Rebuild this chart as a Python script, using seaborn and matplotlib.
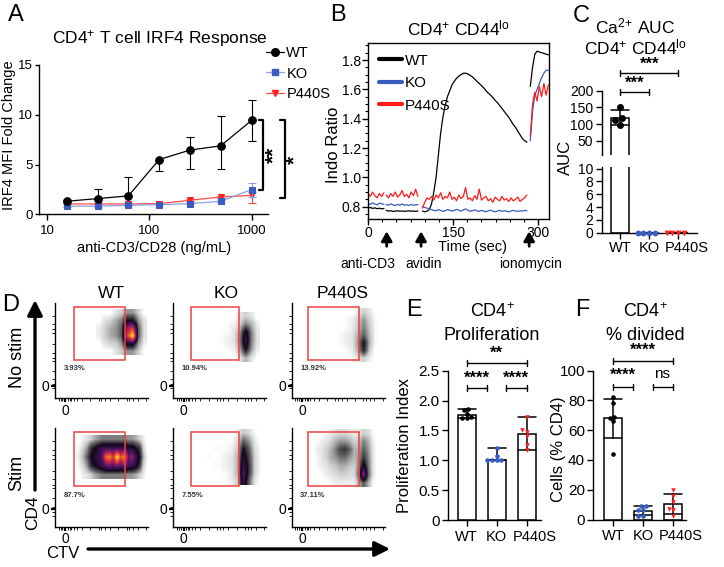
import matplotlib
matplotlib.use("Agg")
import matplotlib.pyplot as plt
import matplotlib.transforms as mtransforms
from matplotlib.colors import LinearSegmentedColormap, Normalize
from matplotlib.lines import Line2D
from matplotlib.patches import Rectangle, FancyArrowPatch
import numpy as np
import pandas as pd
import seaborn as sns

# ---------------- data ----------------
genotypes = ["WT", "KO", "P440S"]

# A: IRF4 fold change vs anti-CD3/CD28 dose
doses = [15.6, 31.25, 62.5, 125, 250, 500, 1000]
irf4_wt = [1.31, 1.58, 1.85, 5.5, 6.45, 6.88, 9.43]
irf4_wt_lo = [0.1, 0.0, 0.0, 1.14, 1.92, 2.28, 2.11]
irf4_wt_hi = [0.1, 0.97, 1.91, 0.0, 1.27, 2.99, 2.05]
irf4_ko = [0.81, 0.82, 0.90, 0.97, 1.07, 1.31, 2.48]
irf4_ko_lo = [0.05, 0.05, 0.05, 0.05, 0.05, 0.1, 0.78]
irf4_ko_hi = [0.05, 0.05, 0.05, 0.05, 0.05, 0.1, 0.62]
irf4_p440s = [1.04, 1.04, 1.04, 1.07, 1.41, 1.74, 1.90]
irf4_p440s_lo = [0.05, 0.05, 0.05, 0.05, 0.1, 0.1, 0.72]
irf4_p440s_hi = [0.05, 0.05, 0.05, 0.05, 0.1, 0.1, 0.3]

# B: Indo ratio kinetics (segments between additions)
time_pre = np.arange(0, 29, 4)
time_cd3 = np.arange(32, 89, 4)
time_avidin = np.arange(96, 281, 4)
time_iono = np.arange(286, 319, 4)

wt_pre = [0.790, 0.795, 0.788, 0.792, 0.786, 0.790, 0.785, 0.788]
wt_cd3 = [0.775, 0.770, 0.772, 0.768, 0.770, 0.772, 0.769, 0.771, 0.768, 0.770,
          0.772, 0.769, 0.770, 0.768, 0.771]
wt_avidin = [0.77, 0.765, 0.77, 0.78, 0.82, 0.9, 1.0, 1.15, 1.3, 1.41,
             1.49, 1.55, 1.59, 1.63, 1.655, 1.675, 1.69, 1.70, 1.71, 1.71,
             1.705, 1.695, 1.685, 1.67, 1.655, 1.64, 1.625, 1.61, 1.59, 1.575,
             1.56, 1.545, 1.525, 1.51, 1.49, 1.47, 1.45, 1.43, 1.41, 1.385,
             1.36, 1.34, 1.315, 1.29, 1.265, 1.25, 1.24]
wt_iono = [1.62, 1.75, 1.84, 1.86, 1.855, 1.85, 1.845, 1.84, 1.835]

ko_pre = [0.822, 0.815, 0.826, 0.818, 0.812, 0.824, 0.820, 0.816]
ko_cd3 = [0.815, 0.810, 0.820, 0.812, 0.808, 0.816, 0.810, 0.818, 0.811, 0.813,
          0.808, 0.815, 0.810, 0.812, 0.815]
ko_avidin = [0.800, 0.795, 0.790, 0.785, 0.780, 0.775, 0.772, 0.780, 0.775, 0.768,
             0.772, 0.780, 0.776, 0.770, 0.774, 0.782, 0.776, 0.770, 0.778, 0.785,
             0.775, 0.770, 0.772, 0.778, 0.772, 0.768, 0.775, 0.770, 0.766, 0.772,
             0.776, 0.770, 0.765, 0.770, 0.775, 0.768, 0.772, 0.770, 0.765, 0.770,
             0.775, 0.770, 0.768, 0.772, 0.770, 0.775, 0.772]
ko_iono = [1.25, 1.45, 1.56, 1.60, 1.64, 1.68, 1.71, 1.73, 1.73]

p440s_pre = [0.890, 0.870, 0.900, 0.875, 0.860, 0.890, 0.870, 0.895]
p440s_cd3 = [0.880, 0.860, 0.890, 0.870, 0.900, 0.865, 0.880, 0.910, 0.870, 0.885,
             0.860, 0.900, 0.875, 0.920, 0.870]
p440s_avidin = [0.790, 0.830, 0.860, 0.850, 0.870, 0.845, 0.880, 0.860, 0.895, 0.850,
                0.870, 0.860, 0.900, 0.850, 0.865, 0.840, 0.880, 0.855, 0.870, 0.930,
                0.850, 0.860, 0.840, 0.875, 0.850, 0.920, 0.845, 0.860, 0.870, 0.840,
                0.855, 0.830, 0.865, 0.850, 0.840, 0.870, 0.845, 0.855, 0.835, 0.860,
                0.840, 0.850, 0.865, 0.835, 0.850, 0.860, 0.880]
p440s_iono = [1.28, 1.50, 1.58, 1.52, 1.62, 1.55, 1.64, 1.56, 1.63]

# C: Ca2+ AUC
auc_wt = [150, 118, 112, 97]
auc_ko = [0, 0, 0, 0]
auc_p440s = [0, 0, 0, 0]

# E: proliferation index
prolif_wt = [1.86, 1.84, 1.78, 1.72, 1.70, 1.70]
prolif_ko = [1.20, 1.08, 1.00, 1.00, 1.00, 1.00]
prolif_p440s = [1.73, 1.50, 1.48, 1.40, 1.26, 1.17]

# F: % divided
divided_wt = [82, 78, 69, 68, 66, 44]
divided_ko = [8.9, 8.9, 6.2, 6.2, 2.2, 2.2]
divided_p440s = [19.6, 15.6, 11.8, 7.3, 6.2, 2.2]

# D: flow density grids (CTV x CD4, axes fraction), rows top -> bottom
flow_wt_nostim_ext = [0.44, 0.98, 0.46, 0.94]
flow_wt_nostim = [
    [0, 0, 0, 0.3, 0.5, 1, 1, 0.5, 0],
    [0, 0.3, 0.5, 0.8, 1.2, 2.5, 2.5, 1, 0.3],
    [0.2, 0.5, 0.8, 1, 1.5, 5, 6, 1.5, 0.3],
    [0.2, 0.5, 0.8, 1, 1.5, 6, 9, 1.5, 0.3],
    [0, 0.3, 0.5, 0.5, 1, 3, 3, 1, 0.2],
    [0, 0, 0, 0.3, 0.5, 1, 1, 0.5, 0],
]
flow_ko_nostim_ext = [0.50, 0.92, 0.38, 0.90]
flow_ko_nostim = [
    [0, 0, 0, 0.3, 0.5, 0.3, 0],
    [0, 0.1, 0.2, 0.5, 1.2, 0.8, 0.2],
    [0.1, 0.1, 0.3, 1, 3, 1.2, 0.3],
    [0.1, 0.2, 0.3, 1.2, 3.5, 1.2, 0.3],
    [0, 0.1, 0.2, 0.8, 2.5, 1, 0.2],
    [0, 0, 0, 0.3, 0.8, 0.3, 0],
]
flow_p440s_nostim_ext = [0.50, 0.92, 0.38, 0.94]
flow_p440s_nostim = [
    [0, 0, 0, 0.2, 0.5, 0.3, 0],
    [0, 0.1, 0.2, 0.5, 1.0, 0.5, 0.1],
    [0, 0.1, 0.2, 0.6, 1.2, 0.6, 0.1],
    [0.1, 0.2, 0.3, 0.8, 1.5, 0.7, 0.1],
    [0.1, 0.2, 0.3, 1.0, 2.5, 0.8, 0.1],
    [0, 0.1, 0.2, 0.8, 2.2, 0.6, 0],
    [0, 0, 0.1, 0.3, 0.5, 0.2, 0],
]
flow_wt_stim_ext = [0.20, 1.00, 0.48, 0.92]
flow_wt_stim = [
    [0, 0, 0.2, 0.3, 0.5, 0.8, 1, 1.2, 1.2, 1.2, 1.2, 1.2, 1.2, 1.2, 1, 1, 0.8, 0.5, 0.2, 0],
    [0, 0.2, 0.5, 1, 2, 2.5, 3, 3.5, 3.5, 3.5, 3.5, 3.5, 3.5, 3.5, 3, 3, 2.5, 2, 0.5, 0],
    [0.1, 0.3, 0.8, 1.5, 2.5, 3, 3.5, 4, 7, 7.5, 6, 9, 6.5, 8, 4.5, 5, 3.5, 2.5, 0.8, 0.1],
    [0, 0.2, 0.5, 1, 2, 2.5, 3, 3.5, 4, 4.5, 4, 4.5, 4, 4.5, 3.5, 3.5, 3, 2, 0.5, 0],
    [0, 0, 0.2, 0.3, 0.5, 0.8, 1, 1.2, 1.2, 1.2, 1.2, 1.2, 1.2, 1.2, 1, 1, 0.8, 0.5, 0.2, 0],
]
flow_ko_stim_ext = [0.36, 0.96, 0.42, 0.98]
flow_ko_stim = [
    [0, 0, 0, 0, 0, 0.2, 0.6, 0.4, 0.1, 0],
    [0, 0, 0, 0.1, 0.1, 0.4, 1.5, 1.0, 0.3, 0],
    [0, 0.1, 0.1, 0.1, 0.2, 0.6, 2.5, 1.5, 0.4, 0.1],
    [0.1, 0, 0.1, 0.2, 0.3, 0.8, 3.0, 1.8, 0.5, 0.1],
    [0, 0.1, 0.1, 0.2, 0.3, 0.8, 3.5, 2.0, 0.5, 0.1],
    [0, 0, 0.1, 0.1, 0.3, 0.8, 4.0, 2.0, 0.5, 0.1],
    [0, 0, 0, 0.1, 0.2, 0.6, 3.5, 1.5, 0.3, 0],
]
flow_p440s_stim_ext = [0.20, 0.95, 0.40, 0.98]
flow_p440s_stim = [
    [0, 0, 0, 0.1, 0.2, 0.3, 0.4, 0.4, 0.3, 0.2, 0.3, 0.5, 0.4, 0.1, 0],
    [0, 0.1, 0.2, 0.3, 0.5, 0.8, 1.0, 1.0, 0.8, 0.5, 0.6, 1.2, 0.8, 0.2, 0],
    [0, 0.2, 0.3, 0.5, 0.8, 1.2, 1.8, 2.0, 1.5, 0.8, 0.8, 1.5, 1.0, 0.3, 0],
    [0, 0.1, 0.3, 0.5, 0.8, 1.0, 1.3, 1.3, 1.0, 0.7, 1.0, 2.0, 1.2, 0.3, 0],
    [0, 0.1, 0.2, 0.3, 0.5, 0.6, 0.8, 0.8, 0.6, 0.5, 1.2, 3.0, 1.3, 0.3, 0],
    [0, 0, 0.1, 0.2, 0.3, 0.4, 0.5, 0.5, 0.4, 0.4, 1.5, 5.0, 1.5, 0.3, 0],
    [0, 0, 0, 0, 0.1, 0.2, 0.2, 0.2, 0.2, 0.2, 0.8, 1.5, 0.8, 0.1, 0],
]
pct_nostim = ["3.93%", "10.94%", "13.92%"]
pct_stim = ["87.7%", "7.55%", "37.11%"]

# ---------------- style ----------------
sns.set_theme(style="ticks")
plt.rcParams["font.family"] = ["Liberation Sans", "DejaVu Sans"]
plt.rcParams.update({
    "mathtext.fontset": "custom",
    "mathtext.rm": "Liberation Sans",
    "mathtext.it": "Liberation Sans:italic",
    "mathtext.bf": "Liberation Sans:bold",
    "axes.edgecolor": "black",
    "axes.linewidth": 1.0,
    "xtick.color": "black",
    "ytick.color": "black",
    "xtick.major.width": 1.0,
    "ytick.major.width": 1.0,
    "xtick.major.size": 4,
    "ytick.major.size": 4,
    "text.color": "black",
    "axes.labelcolor": "black",
})

colors = {"WT": "black", "KO": "#3a5bbf", "P440S": "#ff2020"}
markers = {"WT": "o", "KO": "o", "P440S": "v"}

W, H = 724, 567
fig = plt.figure(figsize=(W / 100, H / 100), dpi=100)


def fig_box(l, t, r, b):
    return fig.add_axes([l / W, 1 - b / H, (r - l) / W, (b - t) / H])


def ftext(x, y, s, **kw):
    kw.setdefault("ha", "center")
    kw.setdefault("va", "center")
    fig.text(x / W, 1 - y / H, s, **kw)


def bracket(ax, x0, x1, ypx, label, typx, size=12, weight="bold"):
    tr = mtransforms.blended_transform_factory(ax.transData, fig.transFigure)
    y = 1 - ypx / H
    d = 3 / H
    ax.plot([x0, x1], [y, y], color="black", lw=1.0, transform=tr, clip_on=False)
    for xx in (x0, x1):
        ax.plot([xx, xx], [y - d, y + d], color="black", lw=1.0, transform=tr, clip_on=False)
    ax.text((x0 + x1) / 2, 1 - typx / H, label, transform=tr, ha="center", va="center",
            fontsize=size, fontweight=weight)


def nudge_last_label(ax, px):
    lab = ax.get_xticklabels()[-1]
    lab.set_transform(lab.get_transform() + mtransforms.ScaledTranslation(px / 100, 0, fig.dpi_scale_trans))


for letter, x, y in [("A", 16, 15), ("B", 338, 15), ("C", 581, 16),
                     ("D", 11, 305), ("E", 414, 310), ("F", 582, 310)]:
    ftext(x, y, letter, fontsize=17)

# ---------------- A ----------------
axA = fig_box(39.3, 65, 268, 214.3)
series_a = [
    ("P440S", irf4_p440s, irf4_p440s_lo, irf4_p440s_hi, "#ff4a4a", "#ff2020", "v", 5),
    ("KO", irf4_ko, irf4_ko_lo, irf4_ko_hi, "#8da2e0", "#3a5bbf", "s", 5),
    ("WT", irf4_wt, irf4_wt_lo, irf4_wt_hi, "black", "black", "o", 5.5),
]
for g, yv, lo, hi, lc, mc, m, ms in series_a:
    axA.errorbar(doses, yv, yerr=[lo, hi], fmt="none", ecolor=lc, elinewidth=0.8,
                 capsize=3, capthick=0.8)
    sns.lineplot(x=doses, y=yv, ax=axA, color=lc, marker=m, markersize=ms,
                 markerfacecolor=mc, markeredgecolor=mc, linewidth=0.9)
axA.set_xscale("log")
axA.set_xlim(8.4, 1450)
axA.set_ylim(0, 15)
axA.set_xticks([10, 100, 1000], ["10", "100", "1000"])
axA.xaxis.set_minor_locator(matplotlib.ticker.NullLocator())
axA.set_yticks([0, 5, 10, 15])
axA.tick_params(labelsize=9.5)
axA.tick_params(axis="y", length=3, pad=1.5)
sns.despine(ax=axA)
axA.set_xlabel("anti-CD3/CD28 (ng/mL)", fontsize=10.5, labelpad=3)
axA.set_ylabel("IRF4 MFI Fold Change", fontsize=10.5)
axA.yaxis.set_label_coords(-0.1, 0.53)
ftext(160, 39, r"CD4$^{+}$ T cell IRF4 Response", fontsize=12.5)

handles_a = [Line2D([], [], color=lc, marker=m, markerfacecolor=mc, markeredgecolor=mc,
                    markersize=ms, lw=0.9) for g, yv, lo, hi, lc, mc, m, ms in series_a[::-1]]
axA.legend(handles_a, genotypes, loc="upper left", bbox_to_anchor=(266 / W, 1 - 46 / H),
           bbox_transform=fig.transFigure, frameon=False, fontsize=10.5, handlelength=1.2,
           handletextpad=0.2, labelspacing=0.45, borderpad=0, borderaxespad=0)

for xa, xb, y_top, y_bot, lab, xl, yl in [(1171, 1300, 9.43, 2.48, "**", 1652, 5.94),
                                          (1879, 2104, 9.43, 1.68, "*", 2632, 5.5)]:
    axA.plot([xa, xb, xb, xa], [y_top, y_top, y_bot, y_bot], color="black", lw=1.6,
             clip_on=False)
    axA.text(xl, yl, lab, rotation=90, ha="center", va="center", fontsize=15,
             fontweight="bold", clip_on=False)

# ---------------- B ----------------
axB = fig_box(368, 43, 549, 219)
segments = [time_pre, time_cd3, time_avidin, time_iono]
b_series = {"WT": [wt_pre, wt_cd3, wt_avidin, wt_iono],
            "KO": [ko_pre, ko_cd3, ko_avidin, ko_iono],
            "P440S": [p440s_pre, p440s_cd3, p440s_avidin, p440s_iono]}
rows = []
for g, parts in b_series.items():
    for k, (tt, vv) in enumerate(zip(segments, parts)):
        rows.append(pd.DataFrame({"time": tt, "ratio": vv, "segment": k, "genotype": g}))
df_b = pd.concat(rows, ignore_index=True)
b_colors = {"WT": "black", "KO": "#3a5bbf", "P440S": "#ff1a1a"}
for g in genotypes:
    sns.lineplot(data=df_b[df_b.genotype == g], x="time", y="ratio", units="segment",
                 estimator=None, color=b_colors[g], linewidth=0.9, ax=axB)
axB.set_xlim(0, 319)
axB.set_ylim(0.716, 1.916)
axB.set_xticks([0, 150, 300])
axB.set_yticks([0.8, 1.0, 1.2, 1.4, 1.6, 1.8])
axB.xaxis.set_minor_locator(matplotlib.ticker.MultipleLocator(25))
axB.yaxis.set_minor_locator(matplotlib.ticker.MultipleLocator(0.05))
axB.tick_params(which="minor", length=2, width=0.8)
axB.tick_params(labelsize=10, pad=1)
axB.set_xlabel("")
axB.set_ylabel("Indo Ratio", fontsize=12)
axB.yaxis.set_label_coords(-0.148, 0.42)
axB.text(0.575, -0.16, "Time (sec)", transform=axB.transAxes, ha="center", va="center",
         fontsize=10.5)
ftext(458, 28, r"CD4$^{+}$ CD44$^{\mathrm{lo}}$", fontsize=12.5)
handles_b = [Line2D([], [], color=b_colors[g], lw=3) for g in genotypes]
axB.legend(handles_b, genotypes, loc="upper left", frameon=False, fontsize=11,
           handlelength=1.5, handletextpad=0.2, labelspacing=0.55, borderaxespad=0.3)
trB = axB.get_xaxis_transform()
for t_arrow, t_label, lab in [(33, 0, "anti-CD3"), (93.5, 98.8, "avidin"),
                              (284, 286, "ionomycin")]:
    axB.add_patch(FancyArrowPatch((t_arrow, -0.155), (t_arrow, -0.07), transform=trB,
                                  arrowstyle="-|>,head_length=0.7,head_width=0.4",
                                  mutation_scale=8, lw=2, color="black",
                                  shrinkA=0, shrinkB=0, clip_on=False))
    axB.text(t_label, -0.255, lab, transform=trB, ha="center", va="center", fontsize=10)

# ---------------- C ----------------
df_c = pd.DataFrame({"genotype": np.repeat(genotypes, [len(auc_wt), len(auc_ko), len(auc_p440s)]),
                     "value": np.concatenate([auc_wt, auc_ko, auc_p440s])})


def bar_swarm(ax, df, estimator, errorbar, size, groups=genotypes, unclip=False):
    sns.barplot(data=df, x="genotype", y="value", order=genotypes, estimator=estimator,
                errorbar=errorbar, width=0.6, color="white", edgecolor="black",
                linewidth=1.1, capsize=0.6, err_kws={"color": "black", "linewidth": 1.1},
                ax=ax)
    for g in groups:
        n_before = len(ax.collections)
        sns.swarmplot(data=df[df.genotype == g], x="genotype", y="value", order=genotypes,
                      color=colors[g], marker=markers[g], size=size, ax=ax)
        if unclip:
            for c in ax.collections[n_before:]:
                c.set_clip_on(False)
    ax.set_xlabel("")
    ax.set_ylabel("")


axC1 = fig_box(601.7, 90.7, 696.7, 155)
axC2 = fig_box(601.7, 166.7, 696.7, 232.7)
bar_swarm(axC1, df_c, "mean", "sd", 5, groups=["WT"])
bar_swarm(axC2, df_c, "mean", "sd", 4.2, groups=["KO", "P440S"], unclip=True)
for ax in (axC1, axC2):
    ax.set_xlim(-0.63, 2.63)
    ax.tick_params(labelsize=10, pad=2)
axC1.set_ylim(7, 200)
axC1.set_yticks([50, 100, 150, 200])
axC1.set_xticks([])
sns.despine(ax=axC1, bottom=True)
axC2.set_ylim(0, 10.3)
axC2.set_yticks([0, 2, 4, 6, 8, 10])
axC2.tick_params(axis="x", labelsize=10.5)
nudge_last_label(axC2, 8)
sns.despine(ax=axC2)
ftext(565, 157, "AUC", fontsize=12, rotation=90)
ftext(635, 26, r"Ca$^{2}$$^{+}$ AUC", fontsize=12.5)
ftext(635, 47, r"CD4$^{+}$ CD44$^{\mathrm{lo}}$", fontsize=12.5)
bracket(axC1, 0, 1, 91.7, "***", 83)
bracket(axC1, 0, 2, 73.3, "***", 64)

# ---------------- D ----------------
flow_cmap = LinearSegmentedColormap.from_list("flow", [
    (0.0, (1, 1, 1, 0)), (0.015, (0.95, 0.95, 0.95, 1)), (0.06, (0.8, 0.8, 0.8, 1)),
    (0.15, (0.42, 0.42, 0.42, 1)), (0.28, (0.07, 0.03, 0.1, 1)), (0.45, (0.33, 0.08, 0.42, 1)),
    (0.64, (0.8, 0.16, 0.3, 1)), (0.82, (0.98, 0.5, 0.1, 1)), (1.0, (1, 0.95, 0.4, 1))])
flow_norm = Normalize(0, 9)
flow_grids = [[(flow_wt_nostim, flow_wt_nostim_ext), (flow_ko_nostim, flow_ko_nostim_ext),
               (flow_p440s_nostim, flow_p440s_nostim_ext)],
              [(flow_wt_stim, flow_wt_stim_ext), (flow_ko_stim, flow_ko_stim_ext),
               (flow_p440s_stim, flow_p440s_stim_ext)]]
flow_pcts = [pct_nostim, pct_stim]
row_boxes = [(303.3, 398.3), (428.3, 526.7)]
col_lefts = [55, 173.3, 291.7]
gate_x = [(0.20, 0.75), (0.19, 0.71), (0.18, 0.72)]
gate_y = [(0.40, 0.96), (0.41, 0.96)]
zero_y = [0.13, 0.18]

minor_offsets = np.log10(np.arange(2, 10)) * 0.3
for r, (top, bot) in enumerate(row_boxes):
    for c, left in enumerate(col_lefts):
        ax = fig_box(left, top, left + 93, bot)
        grid, ext = flow_grids[r][c]
        ax.imshow(np.array(grid), extent=ext, origin="upper", cmap=flow_cmap,
                  norm=flow_norm, interpolation="bilinear", aspect="auto")
        ax.set_xlim(0, 1)
        ax.set_ylim(0, 1)
        gx, gy = gate_x[c], gate_y[r]
        ax.add_patch(Rectangle((gx[0], gy[0]), gx[1] - gx[0], gy[1] - gy[0],
                               fill=False, edgecolor="#f04040", lw=1.1))
        ax.text(0.09, gy[0] - 0.09, flow_pcts[r][c], fontsize=5.5, fontweight="bold",
                color="#333333", transform=ax.transAxes, va="center")
        ax.set_yticks([zero_y[r]], ["0"])
        ax.set_xticks([0.11], ["0"])
        ymin = [m - o for m in (0.29, 0.57, 0.87) for o in (0, *minor_offsets[:3])]
        xmin = [0.04, 0.06, 0.08, 0.14, 0.16] + [m - o for m in (0.38, 0.68, 0.98)
                                                  for o in (0, *minor_offsets[:4])]
        ax.set_yticks(ymin, minor=True)
        ax.set_xticks(xmin, minor=True)
        ax.tick_params(which="major", length=3, width=1.6, labelsize=10, pad=1)
        ax.tick_params(which="minor", length=2.5, width=0.6)
        sns.despine(ax=ax)

for name, x in zip(genotypes, [111, 226, 343]):
    ftext(x, 293, name, fontsize=12.5)
ftext(17, 357, "No stim", fontsize=13, rotation=90)
ftext(17, 473, "Stim", fontsize=13, rotation=90)
ftext(33, 513, "CD4", fontsize=12.5, rotation=90)
ftext(63, 553, "CTV", fontsize=12)
fig.add_artist(FancyArrowPatch((35 / W, 1 - 490 / H), (35 / W, 1 - 300 / H),
                               transform=fig.transFigure,
                               arrowstyle="-|>,head_length=0.9,head_width=0.45",
                               mutation_scale=10, lw=2.4, color="black", shrinkA=0, shrinkB=0))
fig.add_artist(FancyArrowPatch((88 / W, 1 - 549 / H), (390 / W, 1 - 549 / H),
                               transform=fig.transFigure,
                               arrowstyle="-|>,head_length=0.9,head_width=0.45",
                               mutation_scale=10, lw=2.4, color="black", shrinkA=0, shrinkB=0))

# ---------------- E ----------------
df_e = pd.DataFrame({"genotype": np.repeat(genotypes, [len(prolif_wt), len(prolif_ko), len(prolif_p440s)]),
                     "value": np.concatenate([prolif_wt, prolif_ko, prolif_p440s])})
axE = fig_box(448, 370.7, 541, 520)
bar_swarm(axE, df_e, "median", ("pi", 100), 3.3)
axE.set_xlim(-0.62, 2.48)
axE.set_ylim(0, 2.5)
axE.set_yticks([0, 0.5, 1.0, 1.5, 2.0, 2.5], ["0", "0.5", "1.0", "1.5", "2.0", "2.5"])
axE.tick_params(axis="y", labelsize=11, pad=2)
axE.tick_params(axis="x", labelsize=10.5, pad=3)
nudge_last_label(axE, 8)
sns.despine(ax=axE)
axE.set_ylabel("Proliferation Index", fontsize=12)
axE.yaxis.set_label_coords(-0.39, 0.5)
ftext(492, 312, r"CD4$^{+}$", fontsize=13)
ftext(492, 335, "Proliferation", fontsize=13)
bracket(axE, 0, 0.67, 388.3, "****", 378)
bracket(axE, 1.31, 2.0, 388.3, "****", 378)
bracket(axE, 0, 2.0, 363, "**", 353)

# ---------------- F ----------------
df_f = pd.DataFrame({"genotype": np.repeat(genotypes, [len(divided_wt), len(divided_ko), len(divided_p440s)]),
                     "value": np.concatenate([divided_wt, divided_ko, divided_p440s])})
axF = fig_box(593.3, 370.5, 686, 519.5)
bar_swarm(axF, df_f, "mean", "sd", 3.3)
axF.set_xlim(-0.67, 2.43)
axF.set_ylim(0, 100)
axF.set_yticks([0, 20, 40, 60, 80, 100])
axF.tick_params(axis="y", labelsize=11, pad=2)
axF.tick_params(axis="x", labelsize=10.5, pad=3)
nudge_last_label(axF, 8)
sns.despine(ax=axF)
axF.set_ylabel("Cells (% CD4)", fontsize=12)
axF.yaxis.set_label_coords(-0.295, 0.47)
ftext(645, 312, r"CD4$^{+}$", fontsize=13)
ftext(645, 335, "% divided", fontsize=13)
bracket(axF, 0, 0.65, 386.7, "****", 375)
bracket(axF, 1.31, 1.98, 386.7, "ns", 374, size=11, weight="normal")
bracket(axF, 0, 2.0, 361, "****", 350.7)

fig.savefig("out.png", dpi=100)
